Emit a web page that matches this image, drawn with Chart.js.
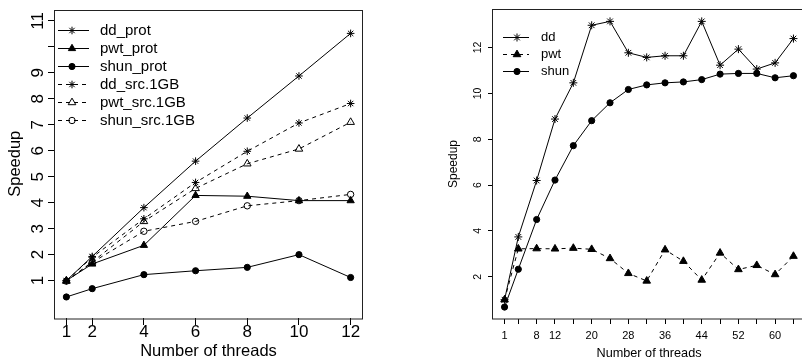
<!DOCTYPE html>
<html><head><meta charset="utf-8">
<script src="https://cdn.jsdelivr.net/npm/chart.js@4/dist/chart.umd.min.js"></script>
<style>
html,body{margin:0;padding:0;background:#fff;overflow:hidden;width:802px;height:360px;}
#wrap{position:relative;width:802px;height:360px;overflow:hidden;background:#fff;}
#c1{position:absolute;left:0;top:0;}
#c2{position:absolute;left:401px;top:0;}
</style></head><body>
<div id="wrap">
<canvas id="c1" width="401" height="360"></canvas>
<canvas id="c2" width="420" height="360"></canvas>
</div>
<script>
// ---------- data: left panel ----------
const leftThreads = [1, 2, 4, 6, 8, 10, 12];
const ddProt   = [1.0, 1.93, 3.81, 5.60, 7.26, 8.88, 10.52];
const pwtProt  = [1.0, 1.64, 2.36, 4.28, 4.25, 4.08, 4.08];
const shunProt = [0.37, 0.69, 1.23, 1.38, 1.51, 2.00, 1.12];
const ddSrc    = [1.0, 1.90, 3.38, 4.78, 5.98, 7.07, 7.82];
const pwtSrc   = [0.98, 1.72, 3.28, 4.55, 5.50, 6.07, 7.10];
const shunSrc  = [0.98, 1.70, 2.90, 3.28, 3.88, 4.08, 4.32];
const leftXTicks  = [1, 2, 4, 6, 8, 10, 12];
const leftXLabels = ['1', '2', '4', '6', '8', '10', '12'];
const leftYTicks  = [1, 2, 3, 4, 5, 6, 7, 8, 9, 10, 11];
const leftYLabels = ['1', '2', '3', '4', '5', '6', '7', '8', '9', '', '11'];

// ---------- data: right panel ----------
const rightThreads = [1, 4, 8, 12, 16, 20, 24, 28, 32, 36, 40, 44, 48, 52, 56, 60, 64];
const ddR   = [1.0, 3.74, 6.20, 8.88, 10.46, 12.97, 13.14, 11.77, 11.57, 11.64, 11.64, 13.14, 11.23, 11.93, 11.06, 11.33, 12.39];
const pwtR  = [1.0, 3.22, 3.23, 3.22, 3.25, 3.20, 2.80, 2.15, 1.82, 3.18, 2.68, 1.86, 3.04, 2.32, 2.50, 2.10, 2.90];
const shunR = [0.68, 2.33, 4.50, 6.22, 7.72, 8.81, 9.59, 10.17, 10.37, 10.46, 10.50, 10.60, 10.84, 10.87, 10.87, 10.68, 10.77];
const rightXTicks  = [1, 4, 8, 12, 16, 20, 24, 28, 32, 36, 40, 44, 48, 52, 56, 60, 64];
const rightXLabels = ['1', '', '8', '12', '', '20', '', '28', '', '36', '', '44', '', '52', '', '60', ''];
const rightYTicks  = [2, 4, 6, 8, 10, 12];
const rightYLabels = ['2', '4', '6', '8', '10', '12'];

const FONT = '"Liberation Sans", Arial, Helvetica, sans-serif';

function pts(xs, ys) { return xs.map((x, i) => ({ x: x, y: ys[i] })); }

function series(label, xs, ys, style, filled, radius, dashed) {
  return {
    label: label,
    data: pts(xs, ys),
    borderColor: '#000',
    borderWidth: 1,
    borderDash: dashed ? [4, 4] : [],
    pointStyle: style,
    pointRadius: radius,
    pointHoverRadius: radius,
    pointBorderWidth: 1,
    pointBorderColor: '#000',
    pointBackgroundColor: filled ? '#000' : 'rgba(0,0,0,0)',
    tension: 0,
    fill: false
  };
}

const boxPlugin = {
  id: 'rbox',
  beforeDatasetsDraw(chart) {
    const { ctx, chartArea: a } = chart;
    ctx.save();
    ctx.strokeStyle = '#222';
    ctx.lineWidth = 1;
    ctx.strokeRect(Math.round(a.left) - 0.5, Math.round(a.top) + 0.5,
                   Math.round(a.right - a.left) + 1, Math.round(a.bottom - a.top) - 0.5);
    ctx.restore();
  }
};

const legendPlugin = {
  id: 'rlegend',
  afterDatasetsDraw(chart, args, o) {
    const ctx = chart.ctx, a = chart.chartArea;
    ctx.save();
    chart.data.datasets.forEach((ds, i) => {
      const y = Math.round(a.top + o.y0 + i * o.dy) + 0.5;
      ctx.strokeStyle = '#000';
      ctx.lineWidth = 1;
      ctx.setLineDash(ds.borderDash || []);
      ctx.beginPath();
      ctx.moveTo(a.left + o.x0, y);
      ctx.lineTo(a.left + o.x1, y);
      ctx.stroke();
      ctx.setLineDash([]);
      ctx.fillStyle = ds.pointBackgroundColor;
      Chart.helpers.drawPoint(ctx, { pointStyle: ds.pointStyle, radius: ds.pointRadius, rotation: 0, borderWidth: 1 }, a.left + o.xm, y);
      ctx.fillStyle = '#000';
      ctx.font = o.size + 'px ' + FONT;
      ctx.textBaseline = 'middle';
      ctx.textAlign = 'left';
      ctx.fillText(ds.label, a.left + o.xt, y);
    });
    ctx.restore();
  }
};

function axis(range, tickVals, tickLabels, tickSize, tickLen, tickPad, title, titleSize, titleLH, titlePad, fitSize, isY) {
  const s = {
    type: 'linear',
    min: range[0],
    max: range[1],
    afterBuildTicks: sc => { sc.ticks = tickVals.map(v => ({ value: v })); },
    afterFit: sc => { if (isY) sc.width = fitSize; else sc.height = fitSize; },
    ticks: {
      autoSkip: false,
      color: '#000',
      font: { family: FONT, size: tickSize, lineHeight: 1 },
      padding: tickPad,
      callback: (v, i) => tickLabels[i]
    },
    grid: { drawOnChartArea: false, drawTicks: true, tickLength: tickLen, tickColor: '#000', tickWidth: 1 },
    border: { display: false },
    title: { display: true, text: title, color: '#000', font: { family: FONT, size: titleSize, lineHeight: titleLH }, padding: titlePad }
  };
  if (isY) { s.ticks.minRotation = 90; s.ticks.maxRotation = 90; s.ticks.crossAlign = 'center'; }
  else { s.ticks.minRotation = 0; s.ticks.maxRotation = 0; }
  return s;
}

new Chart(document.getElementById('c1'), {
  type: 'line',
  data: {
    datasets: [
      series('dd_prot', leftThreads, ddProt, 'star', false, 3.8, false),
      series('pwt_prot', leftThreads, pwtProt, 'triangle', true, 4.2, false),
      series('shun_prot', leftThreads, shunProt, 'circle', true, 3.1, false),
      series('dd_src.1GB', leftThreads, ddSrc, 'star', false, 3.8, true),
      series('pwt_src.1GB', leftThreads, pwtSrc, 'triangle', false, 4.4, true),
      series('shun_src.1GB', leftThreads, shunSrc, 'circle', false, 3.2, true)
    ]
  },
  options: {
    responsive: false, animation: false, events: [],
    layout: { padding: { left: 0, top: 9, right: 39, bottom: 0 } },
    plugins: {
      legend: { display: false }, tooltip: { enabled: false },
      rlegend: { x0: 3, x1: 34, xm: 17, xt: 45, y0: 20, dy: 18, size: 15 }
    },
    scales: {
      x: axis([0.56, 12.44], leftXTicks, leftXLabels, 17, 7, -1.5, 'Number of threads', 16.5, 1.0, { top: 0, bottom: 0 }, 42, false),
      y: axis([-0.44, 11.44], leftYTicks, leftYLabels, 17, 7, 1, 'Speedup', 16.5, 1.2, { top: 6, bottom: 0 }, 55, true)
    }
  },
  plugins: [boxPlugin, legendPlugin]
});

new Chart(document.getElementById('c2'), {
  type: 'line',
  data: {
    datasets: [
      series('dd', rightThreads, ddR, 'star', false, 4, false),
      series('pwt', rightThreads, pwtR, 'triangle', true, 4.4, true),
      series('shun', rightThreads, shunR, 'circle', true, 3.1, false)
    ]
  },
  options: {
    responsive: false, animation: false, events: [],
    layout: { padding: { left: 0, top: 9, right: 16, bottom: 0 } },
    plugins: {
      legend: { display: false }, tooltip: { enabled: false },
      rlegend: { x0: 10, x1: 36, xm: 24, xt: 48, y0: 27.5, dy: 17, size: 13 }
    },
    scales: {
      x: axis([-1.52, 66.52], rightXTicks, rightXLabels, 11, 5, 6, 'Number of threads', 12.7, 1.1, { top: 0, bottom: 0 }, 41, false),
      y: axis([0.16, 13.68], rightYTicks, rightYLabels, 10.5, 5, 3.7, 'Speedup', 12, 1.2, { top: 45, bottom: 0 }, 92, true)
    }
  },
  plugins: [boxPlugin, legendPlugin]
});
</script>
</body></html>
